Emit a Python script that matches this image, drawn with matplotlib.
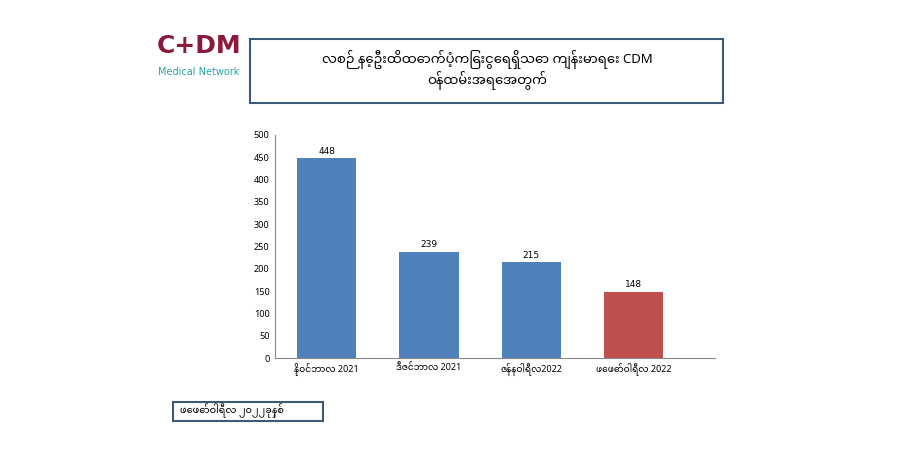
import matplotlib
matplotlib.use("Agg")
import matplotlib.pyplot as plt
from matplotlib.patches import Rectangle

plt.rcParams['font.family'] = ['Noto Sans Myanmar', 'Padauk', 'Myanmar Text', 'DejaVu Sans']

categories = ["နိုဝင်ဘာလ 2021", "ဒီဇင်ဘာလ 2021", "ဇန်နဝါရီလ2022", "ဖေဖော်ဝါရီလ 2022"]
values = [448, 239, 215, 148]
colors = ["#4f81bd", "#4f81bd", "#4f81bd", "#c0504d"]
yticks = [0, 50, 100, 150, 200, 250, 300, 350, 400, 450, 500]
title = "လစဉ် နေ့ဦးထိထောက်ပံ့ကြေးငွေရရှိသော ကျန်းမာရေး CDM\nဝန်ထမ်းအရေအတွက်"
date_label = "ဖေဖော်ဝါရီလ ၂၀၂၂ခုနှစ်"

fig = plt.figure(figsize=(9, 4.5), dpi=100)
ax = fig.add_axes([0.305, 0.204, 0.49, 0.496])
x = range(len(values))
ax.bar(x, values, width=0.58, color=colors)
for xi, v in zip(x, values):
    ax.text(xi, v + 6, str(v), ha='center', va='bottom', fontsize=6.5, family='DejaVu Sans')
ax.set_ylim(0, 500)
ax.set_xlim(-0.51, 3.8)
ax.set_yticks(yticks)
ax.tick_params(axis='y', labelsize=6.5, length=0)
ax.set_xticks(list(x))
ax.set_xticklabels(categories, fontsize=6.5)
ax.tick_params(axis='x', length=0)
for s in ['top', 'right']:
    ax.spines[s].set_visible(False)
for s in ['left', 'bottom']:
    ax.spines[s].set_color('#888888')

fig.patches.append(Rectangle((250/900, 1-103/450), 473/900, 64/450, transform=fig.transFigure,
                             fill=False, edgecolor='#3b5a78', linewidth=1.5))
fig.text(487/900, 1-70/450, title, ha='center', va='center', fontsize=9.5, fontweight='bold')

fig.text(157/900, 1-46/450, "C+DM", fontsize=18, fontweight='bold', color='#8b1a3a', va='center',
         family='DejaVu Sans')
fig.text(158/900, 1-72/450, "Medical Network", fontsize=7, color='#2aa5a0', va='center',
         family='DejaVu Sans')

fig.patches.append(Rectangle((173/900, 1-421/450), 150/900, 19/450, transform=fig.transFigure,
                             fill=False, edgecolor='#3b5a78', linewidth=1.5))
fig.text(180/900, 1-411/450, date_label, ha='left', va='center', fontsize=7, fontweight='bold')

fig.savefig("out.png", dpi=100)
